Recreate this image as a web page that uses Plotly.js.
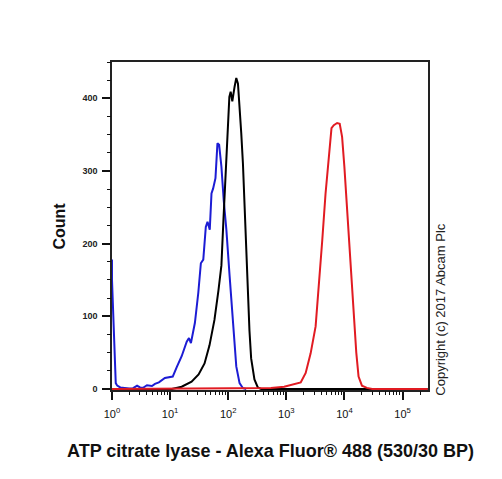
<!DOCTYPE html>
<html>
<head>
<meta charset="utf-8">
<script src="https://cdn.plot.ly/plotly-3.0.1.min.js"></script>
<style>html,body{margin:0;padding:0;background:#fff;}#chart{width:502px;height:479px;}</style>
</head>
<body>
<div id="chart"></div>
<script>
// Fluorescence intensity (ATP citrate lyase - Alexa Fluor 488) and event counts
const blueX = [1.0, 1.0, 1.16, 1.23, 1.39, 1.62, 1.97, 2.31, 2.70, 3.04, 3.42, 4.00, 4.87, 5.48, 6.41, 8.13, 9.88, 11.1, 13.0, 15.8, 19.3, 21.1, 22.8, 26.7, 30.5, 33.8, 37.2, 41.1, 44.0, 48.1, 51.5, 55.0, 60.3, 65.2, 69.7, 76.3, 83.5, 92.9, 105.7, 120.8, 137.5, 156.6, 179, 204];
const blueY = [178, 150, 8, 4.5, 2, 1, 0.5, 1, 4.5, 2, 1.5, 5, 4, 7, 9, 15, 16, 17, 30, 45, 65, 70, 63, 91, 132, 173, 178, 223, 230, 219, 269, 276, 290, 338, 336, 306, 260, 219, 155, 86, 31, 8, 1, 0];

const blackX = [1.0, 10.7, 15.8, 23.4, 30.9, 39.1, 47.6, 57.9, 67.7, 76.3, 82.4, 89.2, 96.6, 104.5, 110, 117.5, 128.6, 137.5, 147, 156.6, 167.4, 179, 190.6, 204, 217.8, 231.9, 247.8, 282.3, 322.6, 367.4, 270000];
const blackY = [0, 0, 3, 10, 20, 35, 60, 95, 135, 170, 230, 290, 345, 402, 409, 396, 416, 428, 420, 393, 352, 310, 250, 185, 125, 80, 42, 13, 2, 0, 0];

const redX = [1.0, 543, 916, 1358, 1766, 2151, 2617, 3187, 3630, 4150, 4723, 5376, 5976, 6546, 7477, 8281, 9101, 9955, 11070, 12610, 14360, 15960, 17470, 19960, 24310, 30000, 270000];
const redY = [0, 1.4, 3, 6, 9, 22, 49, 86, 141, 205, 269, 324, 359, 363, 366, 365, 347, 306, 246, 168, 100, 50, 17, 4.5, 1.4, 0, 0];

const xTickVals = [1, 10, 100, 1000, 10000, 100000];
const xTickText = ['10<sup>0</sup>', '10<sup>1</sup>', '10<sup>2</sup>', '10<sup>3</sup>', '10<sup>4</sup>', '10<sup>5</sup>'];
const xMinorVals = [2, 3, 4, 5, 6, 7, 8, 9, 20, 30, 40, 50, 60, 70, 80, 90, 200, 300, 400, 500, 600, 700, 800, 900, 2000, 3000, 4000, 5000, 6000, 7000, 8000, 9000, 20000, 30000, 40000, 50000, 60000, 70000, 80000, 90000, 200000];
const yTickVals = [0, 100, 200, 300, 400];
const yTickText = ['<b>0</b>', '<b>100</b>', '<b>200</b>', '<b>300</b>', '<b>400</b>'];
const yMinorVals = [25, 50, 75, 125, 150, 175, 225, 250, 275, 325, 350, 375, 425, 450];

const xTitle = 'ATP citrate lyase - Alexa Fluor® 488 (530/30 BP)';
const yTitle = 'Count';
const copyright = 'Copyright (c) 2017 Abcam Plc';

const traces = [
  {x: [1], y: [0], type: 'scatter', mode: 'lines', xaxis: 'x2', yaxis: 'y', hoverinfo: 'skip', showlegend: false},
  {x: [1], y: [0], type: 'scatter', mode: 'lines', xaxis: 'x', yaxis: 'y2', hoverinfo: 'skip', showlegend: false},
  {x: blueX, y: blueY, type: 'scatter', mode: 'lines', line: {color: '#1c1cd4', width: 2}, hoverinfo: 'skip'},
  {x: blackX, y: blackY, type: 'scatter', mode: 'lines', line: {color: '#000000', width: 2}, hoverinfo: 'skip'},
  {x: redX, y: redY, type: 'scatter', mode: 'lines', line: {color: '#e11b22', width: 2}, hoverinfo: 'skip'}
];

const layout = {
  width: 502, height: 479,
  margin: {l: 112, r: 74, t: 62, b: 89},
  paper_bgcolor: '#ffffff', plot_bgcolor: '#ffffff',
  showlegend: false,
  font: {family: 'Liberation Sans, Arial, sans-serif', color: '#111'},
  xaxis: {
    type: 'log', range: [0, 5.437],
    tickmode: 'array', tickvals: xTickVals, ticktext: xTickText,
    ticks: 'outside', ticklen: 8, tickwidth: 2, tickcolor: '#111',
    tickfont: {size: 11, color: '#111'}, ticklabelstandoff: 5,
    showline: true, linecolor: '#222', linewidth: 1.5, mirror: true,
    showgrid: false, zeroline: false
  },
  xaxis2: {
    type: 'log', range: [0, 5.437], overlaying: 'x', anchor: 'y', side: 'bottom',
    tickmode: 'array', tickvals: xMinorVals, showticklabels: false,
    ticks: 'outside', ticklen: 4, tickwidth: 1, tickcolor: '#111',
    showline: false, showgrid: false, zeroline: false
  },
  yaxis: {
    range: [-1.5, 450],
    tickmode: 'array', tickvals: yTickVals, ticktext: yTickText,
    ticks: 'outside', ticklen: 8, tickwidth: 2, tickcolor: '#111',
    tickfont: {size: 9, color: '#222'}, ticklabelstandoff: 3,
    showline: true, linecolor: '#222', linewidth: 1.5, mirror: true,
    showgrid: false, zeroline: false
  },
  yaxis2: {
    range: [-1.5, 450], overlaying: 'y', anchor: 'x', side: 'left',
    tickmode: 'array', tickvals: yMinorVals, showticklabels: false,
    ticks: 'outside', ticklen: 4, tickwidth: 1, tickcolor: '#111',
    showline: false, showgrid: false, zeroline: false
  },
  annotations: [
    {text: '<b>' + xTitle + '</b>', xref: 'paper', yref: 'paper', x: 0.5, y: -0.186,
     xanchor: 'center', yanchor: 'middle', showarrow: false, font: {size: 18, color: '#111'}},
    {text: '<b>' + yTitle + '</b>', xref: 'paper', yref: 'paper', x: -0.169, y: 0.5,
     xanchor: 'center', yanchor: 'middle', textangle: -90, showarrow: false, font: {size: 16, color: '#111'}},
    {text: copyright, xref: 'paper', yref: 'paper', x: 1, y: -0.025,
     xanchor: 'left', yanchor: 'bottom', xshift: 3, textangle: -90,
     showarrow: false, font: {size: 13, color: '#222'}}
  ]
};

Plotly.newPlot('chart', traces, layout, {displayModeBar: false});
</script>
</body>
</html>
